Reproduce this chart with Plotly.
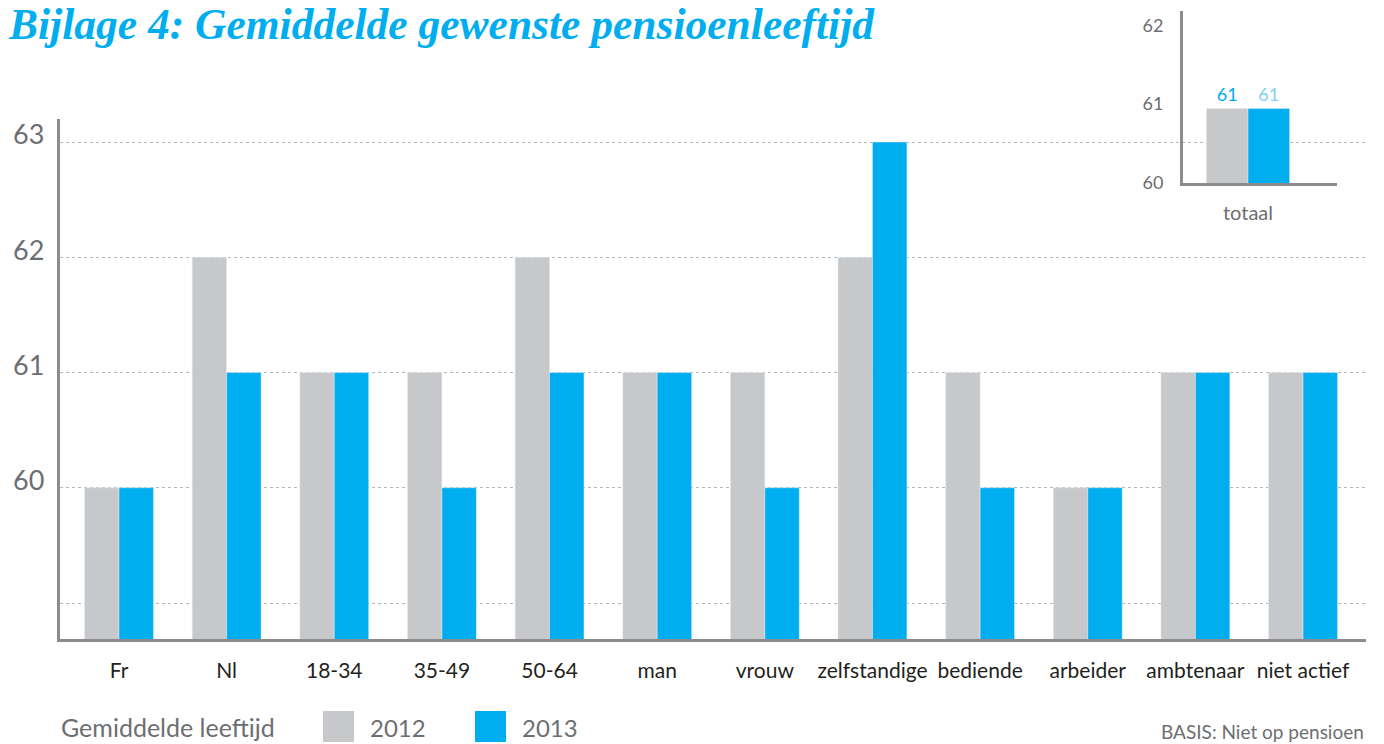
import plotly.graph_objects as go

categories = ["Fr", "Nl", "18-34", "35-49", "50-64", "man", "vrouw",
              "zelfstandige", "bediende", "arbeider", "ambtenaar", "niet actief"]
values_2012 = [60, 62, 61, 61, 62, 61, 61, 62, 61, 60, 61, 61]
values_2013 = [60, 61, 61, 60, 61, 61, 60, 63, 60, 60, 61, 61]

total_category = ["totaal"]
total_2012 = [60.945]
total_2013 = [60.945]

y_ticks = [59, 60, 61, 62, 63]
y_ticktext = ["", "60", "61", "62", "63"]
inset_ticks = [60, 61, 62]

GRAY = "#c7c8ca"
BLUE = "#00adee"
LIGHTBLUE = "#7fd3f5"
AXIS = "#8c8c8e"
TXT = "#6d6e71"

W, H = 1384, 744
def px(x):
    return x / W
def py(y):
    return 1 - y / H

fig = go.Figure()
fig.add_trace(go.Bar(x=categories, y=values_2012, name="2012", marker_color=GRAY,
                     xaxis="x", yaxis="y", showlegend=False))
fig.add_trace(go.Bar(x=categories, y=values_2013, name="2013", marker_color=BLUE,
                     xaxis="x", yaxis="y", showlegend=False))
fig.add_trace(go.Bar(x=total_category, y=total_2012, name="2012", marker_color=GRAY,
                     xaxis="x2", yaxis="y2", showlegend=False,
                     texttemplate="%{y:.0f}", textposition="outside",
                     textfont=dict(color=BLUE, size=18, family="Lato"), cliponaxis=False))
fig.add_trace(go.Bar(x=total_category, y=total_2013, name="2013", marker_color=BLUE,
                     xaxis="x2", yaxis="y2", showlegend=False,
                     texttemplate="%{y:.0f}", textposition="outside",
                     textfont=dict(color=LIGHTBLUE, size=18, family="Lato"), cliponaxis=False))

fig.update_layout(
    width=W, height=H,
    margin=dict(l=0, r=0, t=0, b=0, autoexpand=False),
    paper_bgcolor="white", plot_bgcolor="rgba(0,0,0,0)",
    barmode="group", bargap=0.36, bargroupgap=0,
    font=dict(family="Lato", color=TXT),
    xaxis=dict(domain=[px(60), px(1366)], range=[-0.548, 11.585], automargin=False,
               showline=True, linecolor=AXIS, linewidth=3, ticks="",
               tickfont=dict(size=21, color="#231f20", family="Lato"),
               ticklabelstandoff=11,
               showgrid=False, anchor="y", fixedrange=True),
    yaxis=dict(domain=[py(639), py(119)], range=[58.6876, 63.1996], automargin=False,
               tickvals=y_ticks, ticktext=["", "", "", "", ""],
               showline=True, linecolor=AXIS, linewidth=3,
               showgrid=True, gridcolor="#b8b8b8", griddash="dot", gridwidth=1,
               zeroline=False, anchor="x", fixedrange=True),
    xaxis2=dict(domain=[px(1183), px(1337)], range=[-0.5, 0.685], automargin=False,
                showline=True, linecolor=AXIS, linewidth=3, ticks="",
                tickfont=dict(size=20, color=TXT, family="Lato"),
                ticklabelstandoff=10,
                showgrid=False, anchor="y2", fixedrange=True),
    yaxis2=dict(domain=[py(183), py(11)], range=[60, 62.18], automargin=False,
                tickvals=inset_ticks, showline=True, linecolor=AXIS, linewidth=3,
                tickfont=dict(size=18, color=TXT, family="Lato"), ticks="",
                ticklabelstandoff=13,
                showgrid=False, zeroline=False, anchor="x2", fixedrange=True),
)

annotations = []
for v, t in zip(y_ticks, y_ticktext):
    if t:
        annotations.append(dict(x=px(46), y=v, xref="paper", yref="y", text=t,
                                showarrow=False, xanchor="right", yanchor="middle",
                                yshift=8, font=dict(size=27, color=TXT, family="Lato")))
annotations += [
    dict(x=px(6), y=py(24), xref="paper", yref="paper", xanchor="left", yanchor="middle",
         text="<b><i>Bijlage 4: Gemiddelde gewenste pensioenleeftijd</i></b>", showarrow=False,
         font=dict(size=43.5, color="#00aeef", family="Liberation Serif")),
    dict(x=px(59), y=py(727), xref="paper", yref="paper", xanchor="left", yanchor="middle",
         text="Gemiddelde leeftijd", showarrow=False, font=dict(size=25, color=TXT, family="Lato")),
    dict(x=px(368), y=py(727), xref="paper", yref="paper", xanchor="left", yanchor="middle",
         text="2012", showarrow=False, font=dict(size=24, color=TXT, family="Lato")),
    dict(x=px(520), y=py(727), xref="paper", yref="paper", xanchor="left", yanchor="middle",
         text="2013", showarrow=False, font=dict(size=24, color=TXT, family="Lato")),
    dict(x=px(1366), y=py(731), xref="paper", yref="paper", xanchor="right", yanchor="middle",
         text="BASIS: Niet op pensioen", showarrow=False, font=dict(size=19, color=TXT, family="Lato")),
]
fig.update_layout(annotations=annotations)

fig.add_shape(type="rect", xref="paper", yref="paper", x0=px(323), x1=px(354), y0=py(742), y1=py(711),
              fillcolor=GRAY, line_width=0)
fig.add_shape(type="rect", xref="paper", yref="paper", x0=px(475), x1=px(506), y0=py(742), y1=py(711),
              fillcolor=BLUE, line_width=0)

post = (
    "var d=document.documentElement,b=document.body;"
    "d.style.margin='0';d.style.padding='0';d.style.overflow='hidden';"
    "b.style.margin='0';b.style.padding='0';b.style.overflow='hidden';"
)
fig.write_html("out.html", config={"displayModeBar": False}, post_script=post)
